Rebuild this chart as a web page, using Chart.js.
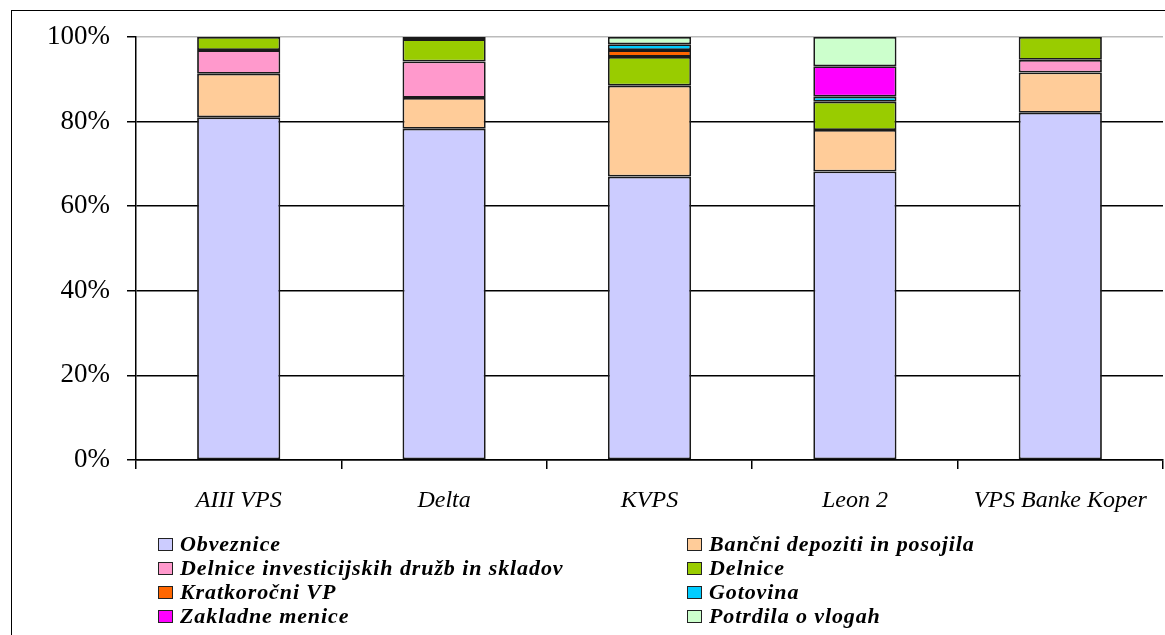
<!DOCTYPE html>
<html>
<head>
<meta charset="utf-8">
<script src="https://cdn.jsdelivr.net/npm/chart.js@4/dist/chart.umd.min.js"></script>
<style>
  html, body { margin: 0; padding: 0; background: #fff; overflow: hidden; }
  #wrap { position: relative; width: 1165px; height: 635px; }
  #frame { position: absolute; left: 11px; top: 10px; width: 1200px; height: 700px; border: 1.5px solid #000; box-sizing: border-box; }
  #legend { position: absolute; left: 0; top: 0; font-family: "Times New Roman", "Liberation Serif", serif; font-style: italic; font-weight: bold; font-size: 22px; letter-spacing: 0.9px; }
  .item { position: absolute; white-space: nowrap; line-height: 24px; }
  .box { display: inline-block; width: 13px; height: 11px; border: 1.5px solid #222; margin-right: 7px; vertical-align: 0px; }
</style>
</head>
<body>
<div id="wrap">
  <div id="frame"></div>
  <canvas id="c" width="1165" height="635"></canvas>
  <div id="legend"></div>
</div>
<script>
var funds = ['AIII VPS', 'Delta', 'KVPS', 'Leon 2', 'VPS Banke Koper'];
var yTicks = [0, 20, 40, 60, 80, 100];

// null = fund holds none of this asset class
var obveznice   = [81.0, 78.3, 67.0, 68.2, 82.1];
var bancni      = [10.3, 7.3, 21.5, 9.8, 9.5];
var delniceInv  = [5.6, 8.6, null, null, 3.0];
var delnice     = [3.1, 5.3, 6.8, 6.7, 5.4];
var kratkorocni = [null, 0.5, 1.6, null, null];
var gotovina    = [null, null, 1.4, 1.2, null];
var zakladne    = [null, null, null, 7.2, null];
var potrdila    = [null, null, 1.7, 6.9, null];

var seriesNames = ['Obveznice', 'Bančni depoziti in posojila', 'Delnice investicijskih družb in skladov',
  'Delnice', 'Kratkoročni VP', 'Gotovina', 'Zakladne menice', 'Potrdila o vlogah'];
var seriesData = [obveznice, bancni, delniceInv, delnice, kratkorocni, gotovina, zakladne, potrdila];
var seriesColors = ['#CCCCFF', '#FFCC99', '#FF99CC', '#99CC00', '#FF6600', '#00CCFF', '#FF00FF', '#CCFFCC'];

var serif = '"Times New Roman", "Liberation Serif", serif';

var datasets = seriesNames.map(function (name, i) {
    return {
        label: name,
        data: seriesData[i],
        backgroundColor: seriesColors[i],
        borderColor: '#1a1a1a',
        borderWidth: 1.8,
        borderSkipped: false,
        categoryPercentage: 1,
        barPercentage: 0.405
    };
});

var ctx = document.getElementById('c').getContext('2d');
var chart = new Chart(ctx, {
    type: 'bar',
    data: { labels: funds, datasets: datasets },
    options: {
        responsive: false,
        animation: false,
        layout: { padding: { top: 37, right: 2, left: 0, bottom: 0 } },
        plugins: { legend: { display: false }, tooltip: { enabled: false } },
        scales: {
            x: {
                stacked: true,
                offset: true,
                grid: { drawOnChartArea: false, color: '#000', tickLength: 9, offset: true, lineWidth: 1.5 },
                border: { color: '#000', width: 1.5 },
                ticks: {
                    color: '#000',
                    padding: 17,
                    maxRotation: 0,
                    font: { family: serif, style: 'italic', size: 24 }
                },
                afterFit: function (s) { s.height = 175; }
            },
            y: {
                stacked: true,
                min: 0,
                max: 100,
                afterBuildTicks: function (s) {
                    s.ticks = yTicks.map(function (v) { return { value: v }; });
                },
                grid: {
                    color: function (c) { return c.tick && c.tick.value === 100 ? '#bbb' : '#000'; },
                    tickColor: '#000',
                    tickLength: 9,
                    lineWidth: 1.5
                },
                border: { color: '#000', width: 1.5 },
                ticks: {
                    color: '#000',
                    padding: 17,
                    font: { family: serif, size: 27 },
                    callback: function (v) { return v + '%'; }
                },
                afterFit: function (s) { s.width = 136; }
            }
        }
    }
});

// two-column legend under the plot
var legend = document.getElementById('legend');
var colX = [158, 687];
var rowY = [532, 556, 580, 604];
chart.data.datasets.forEach(function (ds, i) {
    var el = document.createElement('div');
    el.className = 'item';
    el.style.left = colX[i % 2] + 'px';
    el.style.top = rowY[Math.floor(i / 2)] + 'px';
    el.innerHTML = '<span class="box" style="background:' + ds.backgroundColor + '"></span>' + ds.label;
    legend.appendChild(el);
});
</script>
</body>
</html>
